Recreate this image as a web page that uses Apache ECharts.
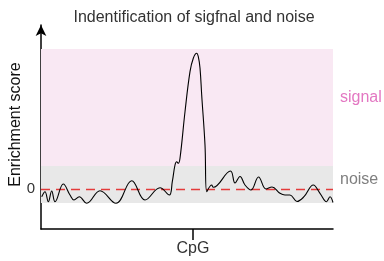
<!DOCTYPE html>
<html><head><meta charset="utf-8">
<script src="https://cdn.jsdelivr.net/npm/echarts@6/dist/echarts.min.js"></script>
<style>html,body{margin:0;padding:0;background:#fff}#c{width:384px;height:261px}</style>
</head><body><div id="c"></div>
<script>
// positions relative to CpG (arbitrary units)
const positions = [-151.3,-148,-144.7,-141.3,-138,-129.7,-123,-119,-113.7,-106.3,-93,-77,-61.3,-48,-33,-23.7,-20.7,-18,-16.3,-14.7,-13,-8,-3,0.3,3.7,5.3,7,8.7,12,13.7,18.7,20.3,37.5,42,47,52,58,65.5,73,79,87,92,97,104,111,120.3,127,133.5,137,140];
const scores = [-0.77,-0.27,-1.27,-0.2,-1.27,0.5,-0.6,-1.1,-0.77,-1.43,-0.17,-1.43,0.83,-1.1,0.13,-0.6,0.73,2.4,2.73,2.57,3.07,7.73,11.73,13.07,13.57,13.23,12.1,9.4,4.4,-0.27,0.4,0.17,1.8,0.6,1.25,0.4,-0.1,1.2,0,0.2,-0.43,-0.6,-0.6,-1.25,-0.77,0.4,-0.43,-1.27,-0.77,-1.35];
const noiseBand = [-1.4, 2.3];
const signalBand = [2.3, 14];
const xTickLabels = ['CpG'];
const yTickLabels = ['0'];

const FONT = 'Liberation Sans, Arial, sans-serif';
const data = positions.map((p, i) => [p, scores[i]]);
const chart = echarts.init(document.getElementById('c'), null, {renderer: 'canvas'});
chart.setOption({
  animation: false,
  title: {text: 'Indentification of sigfnal and noise', left: 189, textAlign: 'center', top: 5,
    textStyle: {fontSize: 16, fontWeight: 'normal', color: '#333', fontFamily: FONT}},
  grid: {left: 41, right: 51, top: 25, bottom: 32, containLabel: false, outerBoundsMode: 'none'},
  xAxis: {type: 'value', min: -152, max: 140,
    axisLine: {onZero: false, lineStyle: {color: '#000', width: 1.5}},
    splitLine: {show: false},
    axisTick: {show: true, customValues: [0], length: 11, lineStyle: {color: '#000', width: 1.5}},
    axisLabel: {customValues: [0], formatter: () => xTickLabels[0], margin: 12, fontSize: 16, color: '#333', fontFamily: FONT}},
  yAxis: {type: 'value', min: -4, max: 16.4, name: 'Enrichment score', nameLocation: 'middle', nameGap: 17,
    nameMoveOverlap: false,
    nameTextStyle: {fontSize: 16, color: '#111', fontFamily: FONT, padding: [0, 0, 0, 5]},
    axisLine: {show: true, onZero: false, symbol: ['none', 'arrow'], symbolSize: [8, 11], lineStyle: {color: '#000', width: 1.5}},
    splitLine: {show: false},
    axisTick: {show: false},
    axisLabel: {customValues: [0], formatter: () => yTickLabels[0], margin: 6, fontSize: 15, color: '#333', fontFamily: FONT}},
  series: [{
    type: 'line', data: data, smooth: 0.4, symbol: 'none', clip: false,
    lineStyle: {color: '#000', width: 1.1},
    z: 5,
    markArea: {silent: true, data: [
      [{yAxis: signalBand[0], xAxis: -152, itemStyle: {color: '#f9e8f3'},
        label: {show: true, position: 'right', distance: 7, offset: [0, -10], formatter: 'signal', color: '#e377c2', fontSize: 16, fontFamily: FONT}},
       {yAxis: signalBand[1], xAxis: 145}],
      [{yAxis: noiseBand[0], xAxis: -152, itemStyle: {color: '#e8e8e8'},
        label: {show: true, position: 'right', distance: 7, offset: [0, -5], formatter: 'noise', color: '#7f7f7f', fontSize: 16, fontFamily: FONT}},
       {yAxis: noiseBand[1], xAxis: 145}]
    ]},
    markLine: {silent: true, symbol: 'none', label: {show: false},
      lineStyle: {color: '#e33b3b', type: [9, 6], width: 1.3},
      data: [[{coord: [-152, 0]}, {coord: [140, 0]}]]}
  }]
});
</script></body></html>
